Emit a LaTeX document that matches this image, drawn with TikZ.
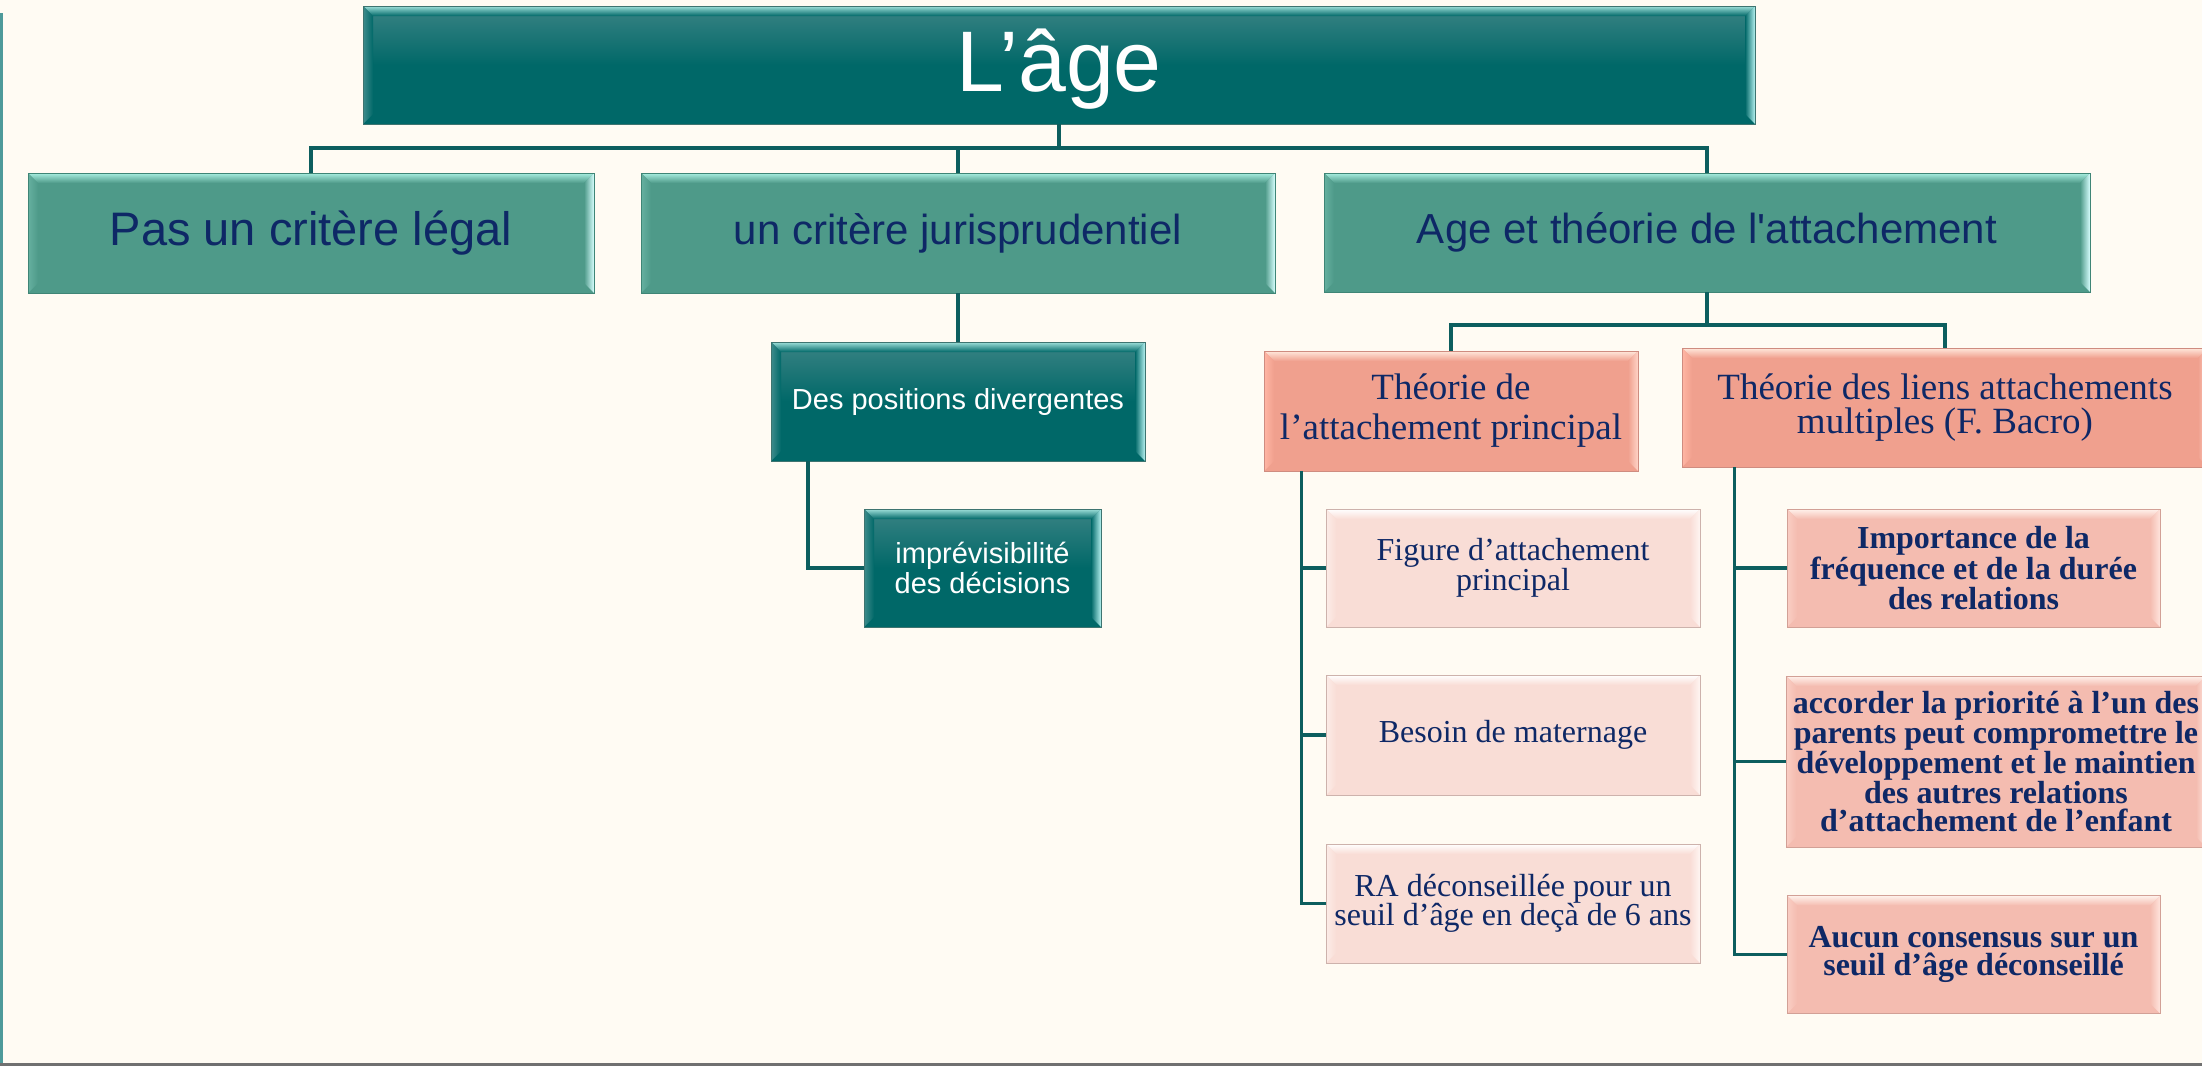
\documentclass[tikz,border=0pt]{standalone}
\usepackage{fontspec}
\setmainfont{Liberation Serif}
\newfontfamily\arialf[Ligatures=TeXOff]{Liberation Sans}
\usetikzlibrary{calc}

% palette
\definecolor{bg}{HTML}{FFFBF3}
\definecolor{navy}{HTML}{0E2866}
\definecolor{wire}{HTML}{0D5E5E}
\definecolor{frameL}{HTML}{4E9A9A}
\definecolor{frameB}{HTML}{707070}
% dark teal boxes
\definecolor{dtTop}{HTML}{3A8384}
\definecolor{dtBase}{HTML}{006868}
\definecolor{dtHi}{HTML}{9FE0DA}
\definecolor{dtSide}{HTML}{3F8C8C}
\definecolor{dtEdge}{HTML}{B6F2F0}
\definecolor{dtLine}{HTML}{3E7470}
% mid teal boxes
\definecolor{mtBase}{HTML}{4E9A89}
\definecolor{mtHi}{HTML}{A8EEE0}
\definecolor{mtSide}{HTML}{66B0A0}
\definecolor{mtEdge}{HTML}{D8FFFF}
\definecolor{mtLine}{HTML}{3F8576}
% salmon boxes
\definecolor{smBase}{HTML}{F0A08E}
\definecolor{smHi}{HTML}{FFE8DC}
\definecolor{smSide}{HTML}{FFB6A4}
\definecolor{smEdge}{HTML}{FFD4C8}
\definecolor{smLine}{HTML}{CF8C80}
% light pink boxes
\definecolor{lpBase}{HTML}{F9DDD6}
\definecolor{lpHi}{HTML}{FFFFFF}
\definecolor{lpSide}{HTML}{FCECE8}
\definecolor{lpEdge}{HTML}{FFF6F3}
\definecolor{lpLine}{HTML}{CDB2AC}
% bold salmon boxes
\definecolor{bsBase}{HTML}{F4BCB0}
\definecolor{bsHi}{HTML}{FFF2EC}
\definecolor{bsSide}{HTML}{FACEC4}
\definecolor{bsEdge}{HTML}{FFE4DD}
\definecolor{bsLine}{HTML}{D2A096}

% bevelled faces drawn inside a rectangular node
\newcommand\bevelfaces[4]{%
  \path (path picture bounding box.north west) coordinate (bvnw)
        (path picture bounding box.north east) coordinate (bvne)
        (path picture bounding box.south west) coordinate (bvsw)
        (path picture bounding box.south east) coordinate (bvse);
  \shade[top color=#2, bottom color=#1]
    (bvnw) -- (bvne) -- ([shift={(-10pt,-10pt)}]bvne) -- ([shift={(10pt,-10pt)}]bvnw) -- cycle;
  \shade[left color=#3, right color=#1]
    (bvnw) -- ([shift={(10pt,-10pt)}]bvnw) -- ([shift={(10pt,10pt)}]bvsw) -- (bvsw) -- cycle;
  \shade[left color=#1, right color=#4]
    (bvne) -- ([shift={(-10pt,-10pt)}]bvne) -- ([shift={(-10pt,10pt)}]bvse) -- (bvse) -- cycle;
}

\tikzset{
  box/.style={rectangle, inner sep=0pt, align=center, line width=0.8pt},
  darkteal/.style={box, draw=dtLine, top color=dtTop, bottom color=dtBase, middle color=dtBase,
    text=white, path picture={\bevelfaces{dtBase}{dtHi}{dtSide}{dtEdge}}},
  midteal/.style={box, draw=mtLine, fill=mtBase, text=navy,
    path picture={\bevelfaces{mtBase}{mtHi}{mtSide}{mtEdge}}},
  salmon/.style={box, draw=smLine, fill=smBase, text=navy,
    path picture={\bevelfaces{smBase}{smHi}{smSide}{smEdge}}},
  lightpink/.style={box, draw=lpLine, fill=lpBase, text=navy,
    path picture={\bevelfaces{lpBase}{lpHi}{lpSide}{lpEdge}}},
  boldsalmon/.style={box, draw=bsLine, fill=bsBase, text=navy,
    path picture={\bevelfaces{bsBase}{bsHi}{bsSide}{bsEdge}}},
  conn/.style={draw=wire, line width=3.2pt, line join=miter},
}

\begin{document}
\begin{tikzpicture}[x=1pt, y=-1pt]
\useasboundingbox (0,0) rectangle (2202,1066);
\fill[bg] (0,0) rectangle (2202,1066);
\fill[frameL] (0,13) rectangle (2.5,1064);
\fill[frameB] (0,1063) rectangle (2202,1066);

% root
\node[darkteal, minimum width=1392pt, minimum height=118pt] (root) at (1059,65) {};
\node[text=white, inner sep=0pt, font={\arialf\fontsize{86}{90}\selectfont}]
  (roottext) at ([yshift=-4pt]root.center) {L’âge};

% second level
\node[midteal, minimum width=566pt, minimum height=120pt,
      font={\arialf\fontsize{47}{54}\selectfont}] (pas) at (311,233) {Pas un critère légal};
\node[midteal, minimum width=634pt, minimum height=120pt,
      font={\arialf\fontsize{42}{48}\selectfont}] (juri) at (958,233) {un critère jurisprudentiel};
\node[midteal, minimum width=766pt, minimum height=119pt,
      font={\arialf\fontsize{42}{48}\selectfont}] (age) at (1707,232.5) {Age et théorie de l'attachement};

% jurisprudence branch
\node[darkteal, minimum width=374pt, minimum height=119pt,
      font={\arialf\fontsize{29}{30}\selectfont}] (posdiv) at (958,401.5) {Des positions divergentes};
\node[darkteal, minimum width=237pt, minimum height=118pt,
      font={\arialf\fontsize{29}{29.5}\selectfont}] (impr) at (982.5,568) {imprévisibilité\\des décisions};

% attachment theories
\node[salmon, minimum width=374pt, minimum height=120pt,
      font={\fontsize{37}{40}\selectfont}] (thA) at (1451,411) {Théorie de\\l’attachement principal};
\node[salmon, minimum width=526pt, minimum height=119pt,
      font={\fontsize{37}{34}\selectfont}] (thB) at (1945,407.5) {Théorie des liens attachements\\multiples (F. Bacro)};

% principal attachment items
\node[lightpink, minimum width=374pt, minimum height=118pt,
      font={\fontsize{32}{30}\selectfont}] (fig) at (1513,568) {Figure d’attachement\\principal};
\node[lightpink, minimum width=374pt, minimum height=120pt,
      font={\fontsize{32}{30}\selectfont}] (bes) at (1513,735) {Besoin de maternage};
\node[lightpink, minimum width=374pt, minimum height=119pt,
      font={\fontsize{32}{29.6}\selectfont}] (ra) at (1513,903.5) {RA déconseillée pour un\\seuil d’âge en deçà de 6 ans};

% multiple attachment items
\node[boldsalmon, minimum width=373pt, minimum height=118pt,
      font={\bfseries\fontsize{32}{28.2}\selectfont}] (imp) at (1973.5,568) {Importance de la\\fréquence et de la durée\\des relations};
\node[boldsalmon, minimum width=420pt, minimum height=171pt,
      font={\bfseries\fontsize{32}{28.3}\selectfont}] (acc) at (1996,761.5) {accorder la priorité à l’un des\\parents peut compromettre le\\développement et le maintien\\des autres relations\\d’attachement de l’enfant};
\node[boldsalmon, minimum width=373pt, minimum height=118pt,
      font={\bfseries\fontsize{32}{28.2}\selectfont}] (auc) at (1973.5,954.5) {Aucun consensus sur un\\seuil d’âge déconseillé};

% connectors
\coordinate (busTop) at (0,148);
\coordinate (busAge) at (0,325);
\draw[conn] (root.south) -- (root.south |- busTop);
\draw[conn] (pas.north) -- (pas.north |- busTop) -- (age.north |- busTop) -- (age.north);
\draw[conn] (juri.north) -- (juri.north |- busTop);
\draw[conn] (juri.south) -- (posdiv.north);
\draw[conn] ([xshift=-150pt]posdiv.south) |- (impr.west);

\draw[conn] (age.south) -- (age.south |- busAge);
\draw[conn] (thA.north) -- (thA.north |- busAge) -- (thB.north |- busAge) -- (thB.north);

\coordinate (colA) at ([xshift=38pt]thA.south west);
\draw[conn] (colA) |- (fig.west);
\draw[conn] (colA) |- (bes.west);
\draw[conn] (colA) |- (ra.west);

\coordinate (colB) at ([xshift=52.5pt]thB.south west);
\draw[conn] (colB) |- (imp.west);
\draw[conn] (colB) |- (acc.west);
\draw[conn] (colB) |- (auc.west);
\end{tikzpicture}
\end{document}
